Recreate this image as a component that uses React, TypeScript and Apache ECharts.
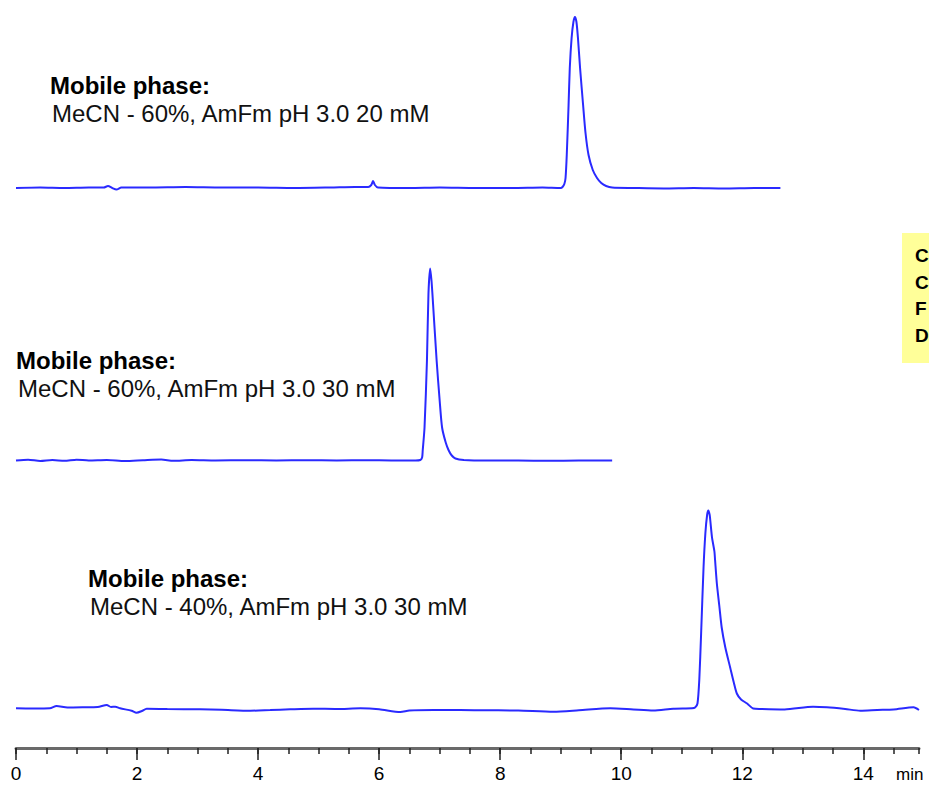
import React, { useEffect, useRef } from "react";
import * as echarts from "echarts";

// x-axis (retention time, min)
const xMajorTicks = [0, 2, 4, 6, 8, 10, 12, 14];
const xUnit = "min";
const xMax = 14.92;

// chromatogram traces: [time (min), signal]
const trace1: [number, number][] = [
  [0, 0], [0.4, 0.5], [0.8, 0], [1.2, 0.5], [1.45, 0.5], [1.52, 2], [1.59, 0], [1.66, -1.5], [1.74, 0.5],
  [2.2, 0.5], [2.8, 1], [3.4, 0.5], [4.0, 0.5], [4.6, 0], [5.2, 0.5], [5.6, 1], [5.82, 1], [5.87, 3],
  [5.9, 7], [5.93, 3], [5.98, 0.5], [6.5, 0], [7.0, 0.5], [7.6, 0], [8.2, 0], [8.7, 0.5], [9.0, 0],
  [9.03, 1], [9.06, 4], [9.08, 10], [9.1, 33], [9.13, 83], [9.15, 120], [9.18, 150], [9.21, 166],
  [9.235, 171], [9.26, 166], [9.285, 150], [9.32, 120], [9.37, 83], [9.41, 55], [9.46, 33], [9.53, 18],
  [9.6, 10], [9.67, 5], [9.75, 2], [9.85, 0.5], [10.2, 0], [10.7, -0.5], [11.2, 0], [11.7, -0.5],
  [12.2, 0], [12.63, 0],
];

const trace2: [number, number][] = [
  [0, 0], [0.2, 0.8], [0.4, -0.5], [0.6, 0.5], [0.8, -0.3], [1.0, 0.8], [1.2, 0], [1.5, 0.5], [1.8, -0.5],
  [2.1, 0.3], [2.4, 1], [2.6, -0.3], [2.9, 0.5], [3.3, 0], [3.8, 0.3], [4.3, 0], [4.8, 0.3], [5.3, 0],
  [5.8, 0.3], [6.2, 0], [6.6, 0], [6.68, 0.5], [6.71, 3], [6.72, 10], [6.75, 33], [6.79, 100],
  [6.815, 167], [6.843, 192], [6.865, 180], [6.88, 167], [6.95, 100], [7.0, 60], [7.04, 33], [7.1, 18],
  [7.15, 10], [7.2, 5], [7.26, 2], [7.4, 0.5], [7.8, 0], [8.3, 0], [8.8, -0.3], [9.3, 0], [9.85, 0],
];

const trace3: [number, number][] = [
  [0, 1.2], [0.3, 1.0], [0.56, 1.2], [0.67, 3.5], [0.85, 2], [1.11, 2.2], [1.35, 2.5], [1.5, 4.5],
  [1.57, 2.5], [1.64, 2.8], [1.72, 1.2], [1.91, -1.2], [1.99, -3.2], [2.08, -1.5], [2.16, 0.8],
  [2.5, 0.5], [3.04, 0.2], [3.4, -0.3], [3.87, -1.2], [4.2, -0.5], [4.53, 0.2], [4.91, 0.8], [5.3, 0.5],
  [5.69, 1.2], [6.0, 0.3], [6.35, -2.5], [6.5, -1], [6.9, -0.5], [7.34, -0.5], [7.8, -0.8], [8.3, -1],
  [8.88, -2.2], [9.3, -0.8], [9.82, 1.2], [10.2, 0], [10.53, -1], [10.86, 0.8], [11.17, 1.2],
  [11.22, 2], [11.26, 6], [11.29, 30], [11.32, 76], [11.36, 142], [11.39, 176], [11.42, 195],
  [11.44, 199], [11.46, 195], [11.47, 190], [11.5, 172], [11.52, 165], [11.54, 158], [11.55, 150],
  [11.58, 126], [11.62, 104], [11.66, 82], [11.72, 62], [11.8, 42], [11.86, 27], [11.91, 16],
  [11.98, 10], [12.08, 6], [12.18, 1], [12.3, 0.5], [12.7, 0], [13.17, 2.8], [13.4, 2.2], [13.7, 0.5],
  [13.95, -1.2], [14.23, -0.5], [14.5, 0], [14.83, 2.2], [14.92, -0.5],
];

// vertical stacking offsets of the three chromatograms
const traceOffsets = [560, 287.5, 38.5];

const labelTitle = "Mobile phase:";
const labelConditions = [
  "MeCN - 60%, AmFm pH 3.0 20 mM",
  "MeCN - 60%, AmFm pH 3.0 30 mM",
  "MeCN - 40%, AmFm pH 3.0 30 mM",
];
const sideLetters = ["C", "C", "F", "D"];

const labelPos = [
  { x: 50, y1: 85, y2: 113 },
  { x: 16, y1: 360, y2: 388 },
  { x: 88, y1: 578, y2: 606 },
];
const sideLetterY = [255, 282, 308, 335];

const FONT = "'Liberation Sans', Arial, sans-serif";

export default function App() {
  const ref = useRef<HTMLDivElement>(null);

  useEffect(() => {
    if (!ref.current) return;
    const chart = echarts.init(ref.current, undefined, { renderer: "svg" });
    const traces = [trace1, trace2, trace3];

    const graphics: any[] = [];
    labelConditions.forEach((cond, i) => {
      const p = labelPos[i];
      graphics.push({
        type: "text",
        x: p.x,
        y: p.y1,
        style: {
          text: labelTitle,
          font: `bold 24px ${FONT}`,
          fill: "#000",
          textAlign: "left",
          textVerticalAlign: "middle",
          verticalAlign: "middle",
        },
      });
      graphics.push({
        type: "text",
        x: p.x + 2,
        y: p.y2,
        style: {
          text: cond,
          font: `24px ${FONT}`,
          fill: "#111",
          textAlign: "left",
          textVerticalAlign: "middle",
          verticalAlign: "middle",
        },
      });
    });
    graphics.push({
      type: "rect",
      shape: { x: 902, y: 233, width: 40, height: 130 },
      style: { fill: "#ffff99" },
      z: 1,
    });
    sideLetters.forEach((l, i) => {
      graphics.push({
        type: "text",
        x: 915,
        y: sideLetterY[i],
        z: 2,
        style: {
          text: l,
          font: `bold 19px ${FONT}`,
          fill: "#000",
          textAlign: "left",
          textVerticalAlign: "middle",
          verticalAlign: "middle",
        },
      });
    });
    graphics.push({
      type: "text",
      x: 896,
      y: 774,
      style: {
        text: xUnit,
        font: `17px ${FONT}`,
        fill: "#000",
        textAlign: "left",
        textVerticalAlign: "middle",
        verticalAlign: "middle",
      },
    });

    chart.setOption({
      animation: false,
      backgroundColor: "#ffffff",
      grid: { left: 16, right: 10, top: 0, bottom: 37, containLabel: false },
      xAxis: [
        {
          type: "value",
          min: 0,
          max: xMax,
          interval: 0.5,
          position: "bottom",
          axisLine: { show: true, lineStyle: { color: "#6a6a6a", width: 3 } },
          axisTick: { show: true, length: 6, lineStyle: { color: "#222", width: 1.5 } },
          axisLabel: { show: false },
          splitLine: { show: false },
        },
        {
          type: "value",
          min: 0,
          max: xMax,
          interval: 2,
          position: "bottom",
          axisLine: { show: false },
          axisTick: {
            show: true,
            length: 12,
            customValues: xMajorTicks,
            lineStyle: { color: "#222", width: 1.5 },
          },
          axisLabel: {
            show: true,
            margin: 16,
            fontSize: 19,
            fontFamily: FONT,
            color: "#000",
            customValues: xMajorTicks,
            formatter: (v: number) => (xMajorTicks.includes(v) ? String(v) : ""),
          },
          splitLine: { show: false },
        },
      ],
      yAxis: { type: "value", min: 0, max: 748, show: false },
      series: traces.map((tr, i) => ({
        type: "line",
        xAxisIndex: 0,
        data: tr.map(([t, s]) => [t, s + traceOffsets[i]]),
        showSymbol: false,
        smooth: 0.25,
        lineStyle: { color: "#2a2aff", width: 2 },
        silent: true,
      })),
      graphic: graphics,
    });

    return () => chart.dispose();
  }, []);

  return (
    <div
      ref={ref}
      style={{ position: "fixed", left: 0, top: 0, width: 929, height: 785, background: "#fff" }}
    />
  );
}
